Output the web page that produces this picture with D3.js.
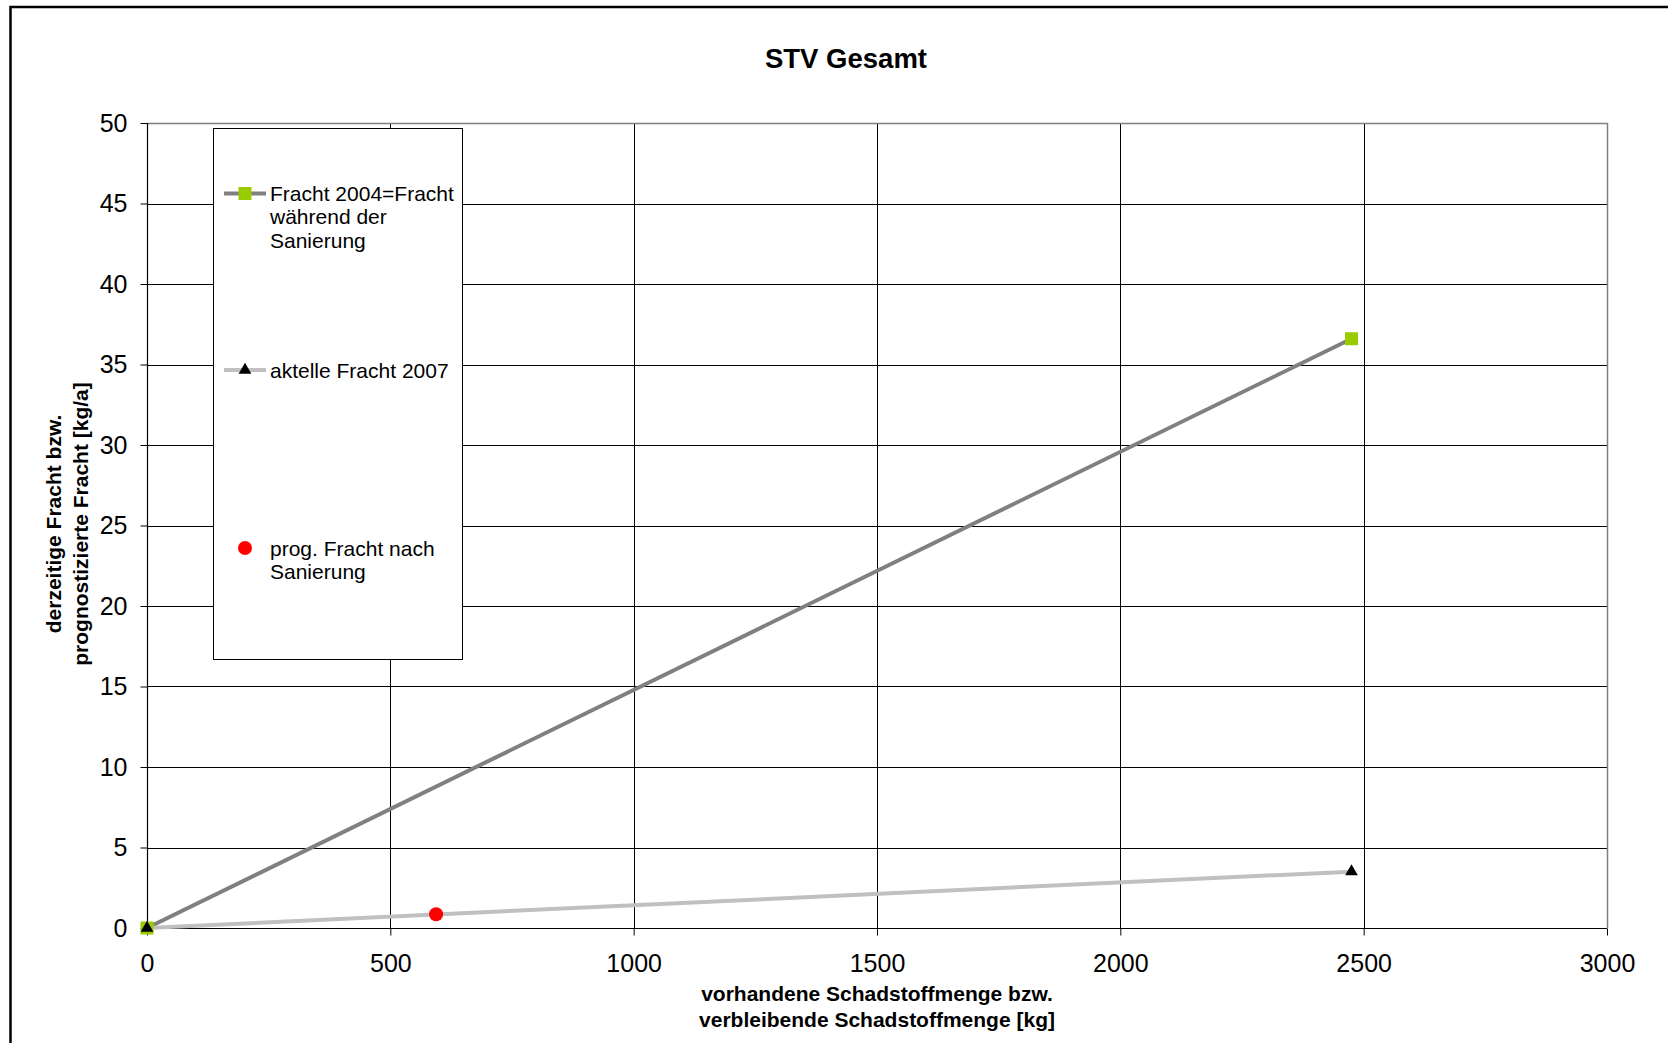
<!DOCTYPE html>
<html>
<head>
<meta charset="utf-8">
<script src="https://cdn.jsdelivr.net/npm/d3@7/dist/d3.min.js"></script>
<style>
  html, body { margin: 0; padding: 0; background: #fff; }
  svg { display: block; font-family: "Liberation Sans", Arial, sans-serif; }
</style>
</head>
<body>
<svg id="chart" width="1668" height="1043"></svg>
<script>
// Load figures: remaining pollutant mass [kg] vs. load [kg/a]
const fracht2004X = [0, 2475];
const fracht2004Y = [0, 36.6];
const fracht2007X = [0, 2475];
const fracht2007Y = [0, 3.5];
const progX = [594];
const progY = [0.85];

const xTicks = [0, 500, 1000, 1500, 2000, 2500, 3000];
const yTicks = [0, 5, 10, 15, 20, 25, 30, 35, 40, 45, 50];

const svg = d3.select("#chart");

const plot = { left: 147, right: 1607, top: 123, bottom: 928 };
const x = d3.scaleLinear().domain([0, 3000]).range([plot.left, plot.right]);
const y = d3.scaleLinear().domain([0, 50]).range([plot.bottom, plot.top]);

// outer chart frame
svg.append("rect")
  .attr("x", 10.5).attr("y", 7).attr("width", 1700).attr("height", 1100)
  .attr("fill", "none").attr("stroke", "#000").attr("stroke-width", 2.5);

// title
svg.append("text")
  .attr("x", 846).attr("y", 68)
  .attr("text-anchor", "middle")
  .attr("font-size", 27.5).attr("font-weight", "bold")
  .text("STV Gesamt");

// gridlines
const grid = svg.append("g");
grid.selectAll("line.h").data(yTicks.slice(1, -1)).join("line")
  .attr("x1", plot.left).attr("x2", plot.right)
  .attr("y1", d => Math.round(y(d)) + 0.5).attr("y2", d => Math.round(y(d)) + 0.5)
  .attr("stroke", "#000").attr("stroke-width", 1);
grid.selectAll("line.v").data(xTicks.slice(1, -1)).join("line")
  .attr("y1", plot.top).attr("y2", plot.bottom)
  .attr("x1", d => Math.round(x(d)) + 0.5).attr("x2", d => Math.round(x(d)) + 0.5)
  .attr("stroke", "#000").attr("stroke-width", 1);

// plot area border (top and right in grey)
svg.append("line")
  .attr("x1", plot.left).attr("x2", plot.right + 1)
  .attr("y1", plot.top + 0.5).attr("y2", plot.top + 0.5)
  .attr("stroke", "#808080").attr("stroke-width", 1.5);
svg.append("line")
  .attr("x1", plot.right + 0.5).attr("x2", plot.right + 0.5)
  .attr("y1", plot.top).attr("y2", plot.bottom)
  .attr("stroke", "#808080").attr("stroke-width", 1.5);

// axes
const xAxis = d3.axisBottom(x).tickValues(xTicks).tickSize(7).tickPadding(19).tickFormat(d3.format("d"));
const yAxis = d3.axisLeft(y).tickValues(yTicks).tickSize(7).tickPadding(13).tickFormat(d3.format("d"));

const gx = svg.append("g").attr("transform", `translate(0,${plot.bottom + 0.5})`).call(xAxis);
const gy = svg.append("g").attr("transform", `translate(${plot.left + 0.5},0)`).call(yAxis);
[gx, gy].forEach(g => {
  g.select(".domain").attr("stroke", "#000").attr("stroke-width", 1.2);
  g.selectAll(".tick line").attr("stroke", "#000");
  g.selectAll(".tick text").attr("font-size", 25).attr("fill", "#000")
    .attr("font-family", "'Liberation Sans', Arial, sans-serif");
});
gx.select(".domain").attr("d", `M${plot.left},0H${plot.right}`);
gy.select(".domain").attr("d", `M0,${plot.bottom}V${plot.top}`);

// axis titles
const xTitle = svg.append("text")
  .attr("text-anchor", "middle").attr("font-size", 21).attr("font-weight", "bold");
xTitle.append("tspan").attr("x", 877).attr("y", 1001).text("vorhandene Schadstoffmenge bzw.");
xTitle.append("tspan").attr("x", 877).attr("y", 1027).text("verbleibende Schadstoffmenge [kg]");

const yTitle = svg.append("text")
  .attr("text-anchor", "middle").attr("font-size", 21).attr("font-weight", "bold")
  .attr("transform", "translate(0,524) rotate(-90)");
yTitle.append("tspan").attr("x", 0).attr("y", 61).text("derzeitige Fracht bzw.");
yTitle.append("tspan").attr("x", 0).attr("y", 88).text("prognostizierte Fracht [kg/a]");

// series lines
const line = d3.line().x(d => x(d[0])).y(d => y(d[1]));
const s2004 = fracht2004X.map((v, i) => [v, fracht2004Y[i]]);
const s2007 = fracht2007X.map((v, i) => [v, fracht2007Y[i]]);
const sProg = progX.map((v, i) => [v, progY[i]]);

svg.append("path").datum(s2004).attr("d", line)
  .attr("fill", "none").attr("stroke", "#808080").attr("stroke-width", 4);
svg.append("path").datum(s2007).attr("d", line)
  .attr("fill", "none").attr("stroke", "#C0C0C0").attr("stroke-width", 4);

// markers
const sq = 13;
svg.selectAll("rect.m2004").data(s2004).join("rect")
  .attr("x", d => x(d[0]) - sq / 2).attr("y", d => y(d[1]) - sq / 2)
  .attr("width", sq).attr("height", sq).attr("fill", "#99CC00");

const tri = d3.symbol().type(d3.symbolTriangle).size(70);
svg.selectAll("path.m2007").data(s2007).join("path")
  .attr("d", tri)
  .attr("transform", d => `translate(${x(d[0])},${y(d[1])})`)
  .attr("fill", "#000");

svg.selectAll("circle.mprog").data(sProg).join("circle")
  .attr("cx", d => x(d[0])).attr("cy", d => y(d[1])).attr("r", 7)
  .attr("fill", "#FF0000");

// legend
const lg = svg.append("g");
lg.append("rect").attr("x", 213.5).attr("y", 128.5).attr("width", 249).attr("height", 531)
  .attr("fill", "#fff").attr("stroke", "#000").attr("stroke-width", 1);

const legendItems = [
  { y: 193.5, lines: ["Fracht 2004=Fracht", "während der", "Sanierung"], stroke: "#808080", marker: "square" },
  { y: 370, lines: ["aktelle Fracht 2007"], stroke: "#C0C0C0", marker: "triangle" },
  { y: 548, lines: ["prog. Fracht nach", "Sanierung"], stroke: null, marker: "circle" }
];
legendItems.forEach(it => {
  if (it.stroke) {
    lg.append("line").attr("x1", 224).attr("x2", 266).attr("y1", it.y).attr("y2", it.y)
      .attr("stroke", it.stroke).attr("stroke-width", 4);
  }
  if (it.marker === "square") {
    lg.append("rect").attr("x", 245 - 6.5).attr("y", it.y - 6.5).attr("width", 13).attr("height", 13)
      .attr("fill", "#99CC00");
  } else if (it.marker === "triangle") {
    lg.append("path").attr("d", tri).attr("transform", `translate(245,${it.y})`).attr("fill", "#000");
  } else {
    lg.append("circle").attr("cx", 245).attr("cy", it.y).attr("r", 7).attr("fill", "#FF0000");
  }
  const t = lg.append("text").attr("font-size", 21).attr("fill", "#000");
  it.lines.forEach((s, i) => {
    t.append("tspan").attr("x", 270).attr("y", it.y + 7.5 + i * 23.4).text(s);
  });
});
</script>
</body>
</html>
